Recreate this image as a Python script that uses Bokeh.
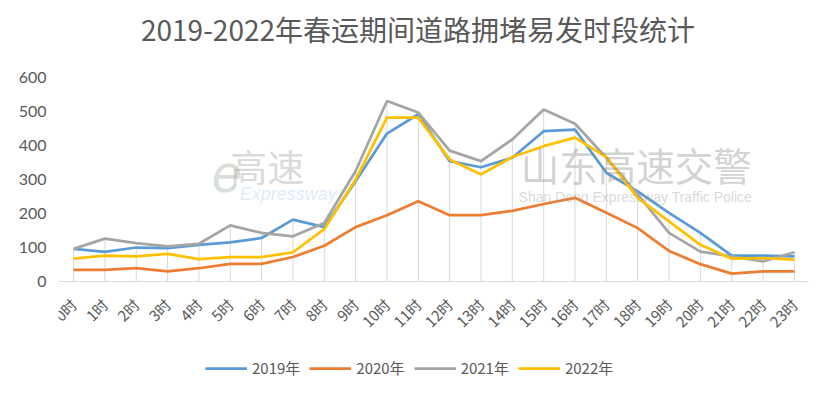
import numpy as np
from math import pi
from bokeh.plotting import figure
from bokeh.models import Range1d, FixedTicker, Legend, LegendItem, Label
from bokeh.embed import file_html
from bokeh.resources import INLINE

hours = list(range(24))
hour_labels = [f"{h}时" for h in hours]
years = ["2019年", "2020年", "2021年", "2022年"]
v2019 = [96, 87, 100, 98, 108, 115, 128, 182, 160, 295, 435, 492, 354, 336, 364, 442, 447, 320, 265, 202, 143, 76, 76, 74]
v2020 = [34, 34, 39, 30, 39, 52, 52, 72, 105, 160, 195, 236, 195, 195, 208, 228, 246, 202, 157, 90, 51, 23, 30, 30]
v2021 = [96, 126, 113, 103, 111, 165, 143, 133, 172, 325, 531, 497, 385, 354, 418, 506, 464, 364, 256, 143, 88, 74, 59, 86]
v2022 = [67, 76, 74, 81, 66, 72, 72, 86, 154, 300, 482, 482, 359, 315, 366, 398, 423, 366, 246, 177, 108, 67, 69, 64]
y_ticks = [0, 100, 200, 300, 400, 500, 600]
title_text = "2019-2022年春运期间道路拥堵易发时段统计"

series = [v2019, v2020, v2021, v2022]
colors = ["#5B9BD5", "#ED7D31", "#A5A5A5", "#FFC000"]
CJK = "Noto Sans CJK SC"
TXT = "#595959"

# tall frame: the area above 620 holds the title, the area below 0 holds tick labels and legend
p = figure(frame_width=750, frame_height=383, output_backend="svg", toolbar_location=None,
           x_range=Range1d(-0.48, 23.45), y_range=Range1d(-300, 826.5),
           min_border_left=58, min_border_right=10, min_border_top=0, min_border_bottom=0)
p.outline_line_color = None
p.grid.visible = False
p.background_fill_color = "white"
p.border_fill_color = "white"

p.add_layout(Label(x=10.99, y=744, text=title_text, text_font=CJK, text_font_size="28px",
                   text_color=TXT, text_align="center", text_baseline="middle"))

# watermarks
p.add_layout(Label(x=4.42, y=318, text="e", text_font="Liberation Sans", text_font_size="54px",
                   text_color="#a8b8a8", text_alpha=0.45, text_font_style="italic",
                   text_baseline="alphabetic"))
p.add_layout(Label(x=5.0, y=260, text="高速", text_font=CJK, text_font_size="37px",
                   text_color="#a0a0a0", text_alpha=0.4))
p.add_layout(Label(x=5.3, y=286, text="Expressway", text_font="Liberation Sans", text_font_size="18px",
                   text_color="#9cc6ea", text_alpha=0.35, text_font_style="italic", text_baseline="top"))
p.add_layout(Label(x=14.27, y=263, text="山东高速交警", text_font=CJK, text_font_size="38.5px",
                   text_color="#8a8a8a", text_alpha=0.4))
p.add_layout(Label(x=14.2, y=272, text="Shan Dong Expressway Traffic Police", text_font="Liberation Sans",
                   text_font_size="14px", text_color="#9a9a9a", text_alpha=0.4, text_baseline="top"))

# drop lines
maxv = np.max(np.array(series), axis=0)
p.segment(x0=hours, y0=[0] * 24, x1=hours, y1=maxv, line_color="#D9D9D9", line_width=1)

items = []
for name, vals, c in zip(years, series, colors):
    r = p.line(hours, vals, line_color=c, line_width=2.75)
    items.append(LegendItem(label=name, renderers=[r]))

legend = Legend(items=items, orientation="horizontal", location=(147, 5),
                label_text_font=CJK, label_text_font_size="15px", label_text_color=TXT,
                glyph_width=42, glyph_height=10, label_standoff=5, spacing=9,
                border_line_color=None, background_fill_alpha=0, margin=0, padding=0)
p.add_layout(legend)

p.yaxis.ticker = FixedTicker(ticks=y_ticks)
p.yaxis.axis_line_color = None
p.yaxis.major_tick_line_color = None
p.yaxis.minor_tick_line_color = None
p.yaxis.major_label_text_font = "Lato"
p.yaxis.major_label_text_font_size = "16px"
p.yaxis.major_label_text_color = TXT
p.yaxis.major_label_standoff = 6

p.xaxis.fixed_location = 0
p.xaxis.ticker = FixedTicker(ticks=hours)
p.xaxis.major_label_overrides = {h: lab for h, lab in zip(hours, hour_labels)}
p.xaxis.major_label_orientation = pi / 4
p.xaxis.axis_line_color = "#D9D9D9"
p.xaxis.major_tick_line_color = None
p.xaxis.minor_tick_line_color = None
p.xaxis.major_label_text_font = CJK
p.xaxis.major_label_text_font_size = "15px"
p.xaxis.major_label_text_color = TXT
p.xaxis.major_label_standoff = 14

open("out.html", "w").write(file_html(p, INLINE))
